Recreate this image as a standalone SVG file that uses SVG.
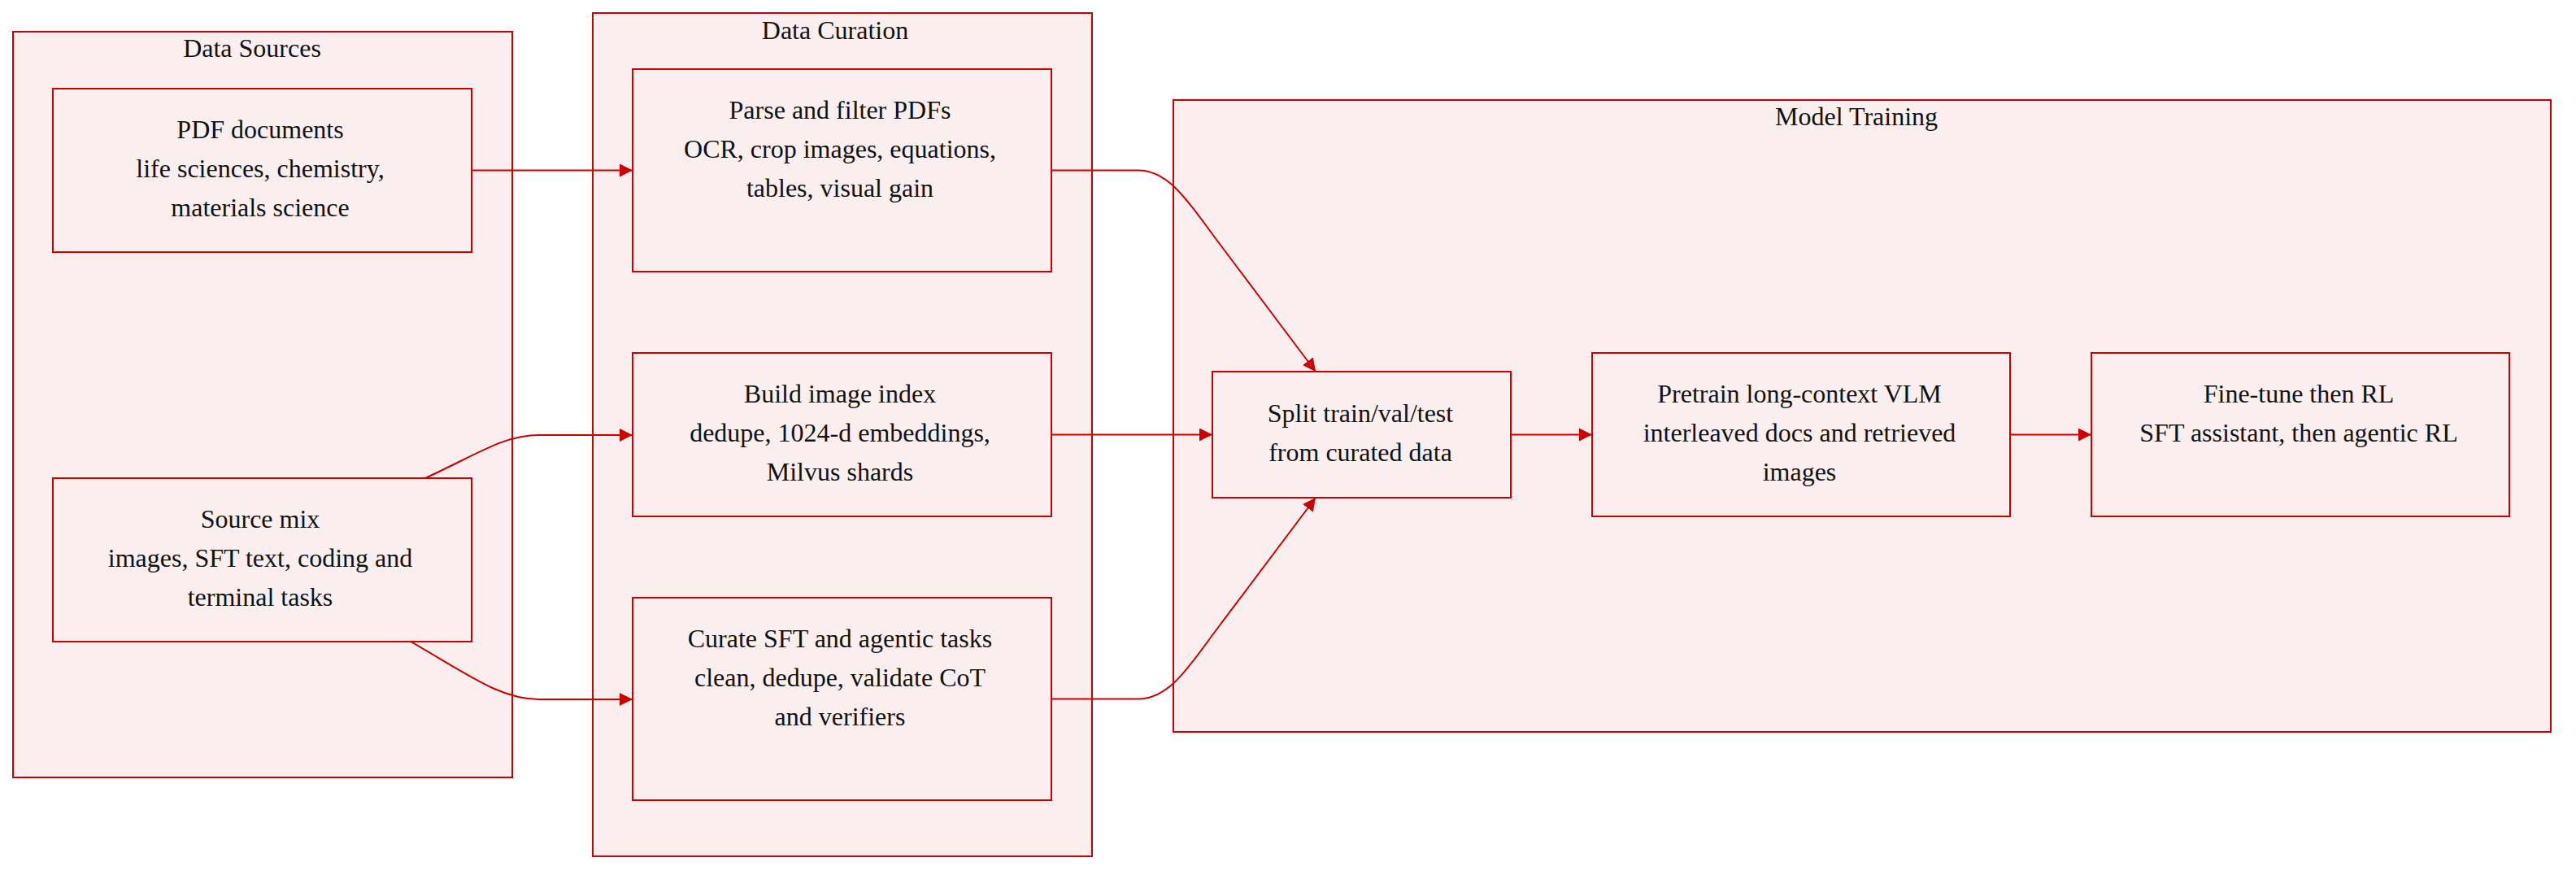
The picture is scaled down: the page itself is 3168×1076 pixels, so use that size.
<svg xmlns="http://www.w3.org/2000/svg" width="3168" height="1076" viewBox="0 0 3168 1076">
<style>
  .cluster { fill: #fbeeee; stroke: #cc0000; stroke-width: 2; }
  .node rect { fill: #fbeeee; stroke: #cc0000; stroke-width: 2; }
  .label { font-family: "Liberation Serif", "Times New Roman", serif; font-size: 32px; fill: #111111; text-anchor: middle; }
  .edge { fill: none; stroke: #cc0000; stroke-width: 2; marker-end: url(#arrow); }
</style>
<defs>
  <marker id="arrow" viewBox="0 0 16 16" refX="16" refY="8" markerWidth="16" markerHeight="16" markerUnits="userSpaceOnUse" orient="auto">
    <path d="M0,0 L16,8 L0,16 z" fill="#cc0000"/>
  </marker>
</defs>
<rect width="3168" height="1076" fill="#ffffff"/>

<g id="clusters">
  <g id="cluster-data-sources">
    <rect class="cluster" x="16" y="39" width="614" height="917"/>
    <text class="label" x="310" y="70">Data Sources</text>
  </g>
  <g id="cluster-data-curation">
    <rect class="cluster" x="729" y="16" width="614" height="1037"/>
    <text class="label" x="1027" y="48">Data Curation</text>
  </g>
  <g id="cluster-model-training">
    <rect class="cluster" x="1443" y="123" width="1694" height="777"/>
    <text class="label" x="2283" y="154">Model Training</text>
  </g>
</g>

<g id="connectors">
  <path class="edge" d="M580,209.5 L778,209.5"/>
  <path class="edge" d="M523,588 C590,557 620,535 663,535 L778,535"/>
  <path class="edge" d="M505,789 C575,829 615,860 663,860 L778,860"/>
  <path class="edge" d="M1293,209.5 L1400,209.5 C1440,209.5 1465,254 1500,300 L1618,457"/>
  <path class="edge" d="M1293,534.5 L1491,534.5"/>
  <path class="edge" d="M1293,859.5 L1400,859.5 C1440,859.5 1465,815 1500,769 L1618,612"/>
  <path class="edge" d="M1858,534.5 L1958,534.5"/>
  <path class="edge" d="M2472,534.5 L2572,534.5"/>
</g>

<g id="node-pdf" class="node">
  <rect x="65" y="109" width="515" height="201"/>
  <text class="label" x="320" y="170">PDF documents</text>
  <text class="label" x="320" y="218">life sciences, chemistry,</text>
  <text class="label" x="320" y="266">materials science</text>
</g>
<g id="node-source-mix" class="node">
  <rect x="65" y="588" width="515" height="201"/>
  <text class="label" x="320" y="649">Source mix</text>
  <text class="label" x="320" y="697">images, SFT text, coding and</text>
  <text class="label" x="320" y="745">terminal tasks</text>
</g>
<g id="node-parse" class="node">
  <rect x="778" y="85" width="515" height="249"/>
  <text class="label" x="1033" y="146">Parse and filter PDFs</text>
  <text class="label" x="1033" y="194">OCR, crop images, equations,</text>
  <text class="label" x="1033" y="242">tables, visual gain</text>
</g>
<g id="node-image-index" class="node">
  <rect x="778" y="434" width="515" height="201"/>
  <text class="label" x="1033" y="495">Build image index</text>
  <text class="label" x="1033" y="543">dedupe, 1024-d embeddings,</text>
  <text class="label" x="1033" y="591">Milvus shards</text>
</g>
<g id="node-curate-sft" class="node">
  <rect x="778" y="735" width="515" height="249"/>
  <text class="label" x="1033" y="796">Curate SFT and agentic tasks</text>
  <text class="label" x="1033" y="844">clean, dedupe, validate CoT</text>
  <text class="label" x="1033" y="892">and verifiers</text>
</g>
<g id="node-split" class="node">
  <rect x="1491" y="457" width="367" height="155"/>
  <text class="label" x="1673" y="519">Split train/val/test</text>
  <text class="label" x="1673" y="567">from curated data</text>
</g>
<g id="node-pretrain" class="node">
  <rect x="1958" y="434" width="514" height="201"/>
  <text class="label" x="2213" y="495">Pretrain long-context VLM</text>
  <text class="label" x="2213" y="543">interleaved docs and retrieved</text>
  <text class="label" x="2213" y="591">images</text>
</g>
<g id="node-finetune" class="node">
  <rect x="2572" y="434" width="514" height="201"/>
  <text class="label" x="2827" y="495">Fine-tune then RL</text>
  <text class="label" x="2827" y="543">SFT assistant, then agentic RL</text>
</g>
</svg>
